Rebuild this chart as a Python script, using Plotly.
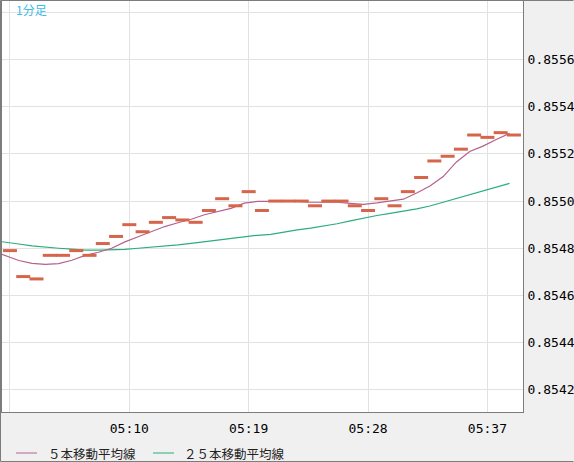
import pandas as pd
from plotly import graph_objects as go

# 1-minute bars, 05:01 .. 05:39
bar_times = [
    "05:01", "05:02", "05:03", "05:04", "05:05", "05:06", "05:07", "05:08",
    "05:09", "05:10", "05:11", "05:12", "05:13", "05:14", "05:15", "05:16",
    "05:17", "05:18", "05:19", "05:20", "05:21", "05:22", "05:23", "05:24",
    "05:25", "05:26", "05:27", "05:28", "05:29", "05:30", "05:31", "05:32",
    "05:33", "05:34", "05:35", "05:36", "05:37", "05:38", "05:39",
]
bar_close = [
    0.85479, 0.85468, 0.85467, 0.85477, 0.85477, 0.85479, 0.85477, 0.85482,
    0.85485, 0.85490, 0.85487, 0.85491, 0.85493, 0.85492, 0.85491, 0.85496,
    0.85501, 0.85498, 0.85504, 0.85496, 0.85500, 0.85500, 0.85500, 0.85498,
    0.85500, 0.85500, 0.85498, 0.85496, 0.85501, 0.85498, 0.85504, 0.85510,
    0.85517, 0.85519, 0.85522, 0.85528, 0.85527, 0.85529, 0.85528,
]

# moving averages start one bar earlier (05:00)
ma_times = ["05:00"] + bar_times
ma5 = [
    0.854789, 0.854767, 0.854748, 0.854736, 0.854732, 0.854735, 0.854749, 0.854770,
    0.854783, 0.854800, 0.854827, 0.854849, 0.854869, 0.854892, 0.854908, 0.854923,
    0.854942, 0.854957, 0.854969, 0.854991, 0.854999, 0.854999, 0.854999, 0.854999,
    0.854995, 0.854995, 0.854995, 0.854990, 0.854986, 0.854992, 0.854999, 0.855008,
    0.855034, 0.855064, 0.855104, 0.855166, 0.855210, 0.855233, 0.855261, 0.855287,
]
ma25 = [
    0.854833, 0.854824, 0.854818, 0.854810, 0.854804, 0.854800, 0.854796, 0.854792,
    0.854792, 0.854792, 0.854795, 0.854800, 0.854804, 0.854808, 0.854814, 0.854821,
    0.854828, 0.854835, 0.854842, 0.854850, 0.854855, 0.854859, 0.854869, 0.854878,
    0.854885, 0.854893, 0.854904, 0.854916, 0.854928, 0.854939, 0.854948, 0.854957,
    0.854967, 0.854979, 0.854995, 0.855009, 0.855025, 0.855043, 0.855057, 0.855075,
]

y_ticks = [0.8542, 0.8544, 0.8546, 0.8548, 0.8550, 0.8552, 0.8554, 0.8556, 0.8558]
y_tick_text = ["0.8542", "0.8544", "0.8546", "0.8548", "0.8550", "0.8552", "0.8554", "0.8556", ""]
x_ticks = ["05:01", "05:10", "05:19", "05:28", "05:37"]
x_tick_text = ["", "05:10", "05:19", "05:28", "05:37"]

legend_names = ["５本移動平均線", "２５本移動平均線"]
chart_title = "1分足"

DAY = "2024-01-01 "
W, H = 574, 462
L, R, T, B = 2, 51, 1, 50
PW, PH = W - L - R, H - T - B

C_BAR = "#d6654c"
C_MA5 = "#b4628c"
C_MA25 = "#2bae7b"
GRID = "#e2e2e2"
FRAME = "#7c7c7c"


def to_dt(labels, shift_s=0):
    return [pd.Timestamp(DAY + t) + pd.Timedelta(seconds=shift_s) for t in labels]


fig = go.Figure()
# MA lines are drawn slightly left of the bar centres in the original
fig.add_trace(go.Scatter(x=to_dt(ma_times, -20), y=ma25, mode="lines",
                         line=dict(color=C_MA25, width=1.2), showlegend=False))
fig.add_trace(go.Scatter(x=to_dt(ma_times, -20), y=ma5, mode="lines",
                         line=dict(color=C_MA5, width=1.2), showlegend=False))
fig.add_trace(go.Scatter(
    x=to_dt(bar_times), y=bar_close, mode="markers",
    marker=dict(symbol="line-ew", size=10, color=C_BAR,
                line=dict(color=C_BAR, width=3)),
    showlegend=False))

fig.update_layout(
    width=W, height=H,
    margin=dict(l=L, r=R, t=T, b=B, autoexpand=False),
    paper_bgcolor="#f0f0f0",
    plot_bgcolor="white",
    font=dict(family="DejaVu Sans Mono", size=13, color="#000000"),
)
fig.update_xaxes(
    range=[pd.Timestamp(DAY + "05:00:24"), pd.Timestamp(DAY + "05:39:41")],
    tickvals=to_dt(x_ticks), ticktext=x_tick_text,
    showgrid=True, gridcolor=GRID, gridwidth=1,
    showline=True, mirror=True, linecolor=FRAME, linewidth=1,
    ticks="outside", ticklen=4, tickcolor="rgba(0,0,0,0)",
    zeroline=False, fixedrange=True, automargin=False,
)
fig.update_yaxes(
    side="right",
    range=[0.854106, 0.855848],
    tickvals=y_ticks, ticktext=y_tick_text,
    showgrid=True, gridcolor=GRID, gridwidth=1,
    showline=True, mirror=True, linecolor=FRAME, linewidth=1,
    ticks="outside", ticklen=1, tickcolor="rgba(0,0,0,0)",
    zeroline=False, fixedrange=True, automargin=False,
)


def px_x(p):
    return (p - L) / PW


def px_y(p):
    return (H - B - p) / PH


# outer border (left, top, bottom)
for x0, y0, x1, y1 in [(0.5, 0.5, 0.5, 461.5), (0.5, 0.5, 573.5, 0.5), (0.5, 461.5, 573.5, 461.5)]:
    fig.add_shape(type="line", xref="paper", yref="paper",
                  x0=px_x(x0), y0=px_y(y0), x1=px_x(x1), y1=px_y(y1),
                  line=dict(color=FRAME, width=1))

# title in the corner
fig.add_annotation(text=chart_title, xref="paper", yref="paper",
                   x=px_x(14), y=px_y(10), xanchor="left", yanchor="middle",
                   showarrow=False,
                   font=dict(family="Noto Sans CJK JP", size=12, color="#3cbce8"))

# hand made legend
legend_items = [(16, 46, C_MA5, legend_names[0]), (153, 182, C_MA25, legend_names[1])]
for lx, tx, col, name in legend_items:
    fig.add_shape(type="line", xref="paper", yref="paper",
                  x0=px_x(lx), x1=px_x(lx + 21), y0=px_y(453), y1=px_y(453),
                  line=dict(color=col, width=1))
    fig.add_annotation(text=name, xref="paper", yref="paper",
                       x=px_x(tx), y=px_y(453), xanchor="left", yanchor="middle",
                       showarrow=False,
                       font=dict(family="Noto Sans CJK JP", size=12.5, color="#222222"))

# page body has a default margin; drop it so the figure sits at 0,0
fig.write_html("out.html", config={"displayModeBar": False},
               post_script="document.body.style.margin='0';")
